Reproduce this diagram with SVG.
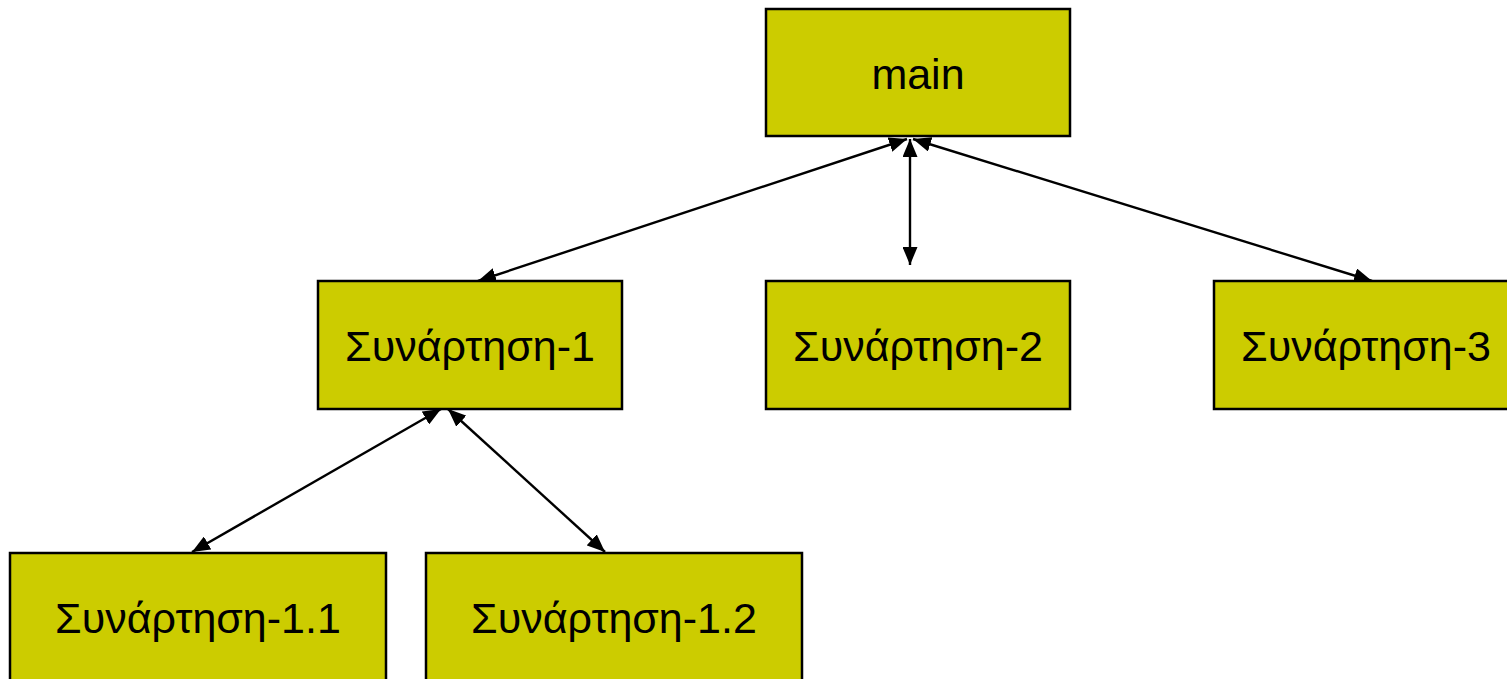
<svg xmlns="http://www.w3.org/2000/svg" width="1507" height="679" viewBox="0 0 1507 679">
<style>
.box{fill:#CCCC00;stroke:#000;stroke-width:2.5}
.lbl{font-family:"Liberation Sans",Arial,sans-serif;font-size:43px;fill:#000;text-anchor:middle}
.edge{stroke:#000;stroke-width:2.4;fill:none;marker-start:url(#ah);marker-end:url(#ah)}
</style>
<defs>
<marker id="ah" markerUnits="userSpaceOnUse" markerWidth="19" markerHeight="15" refX="18" refY="7.5" orient="auto-start-reverse">
<path d="M0,0 L18,7.5 L0,15 Z" fill="#000"/>
</marker>
</defs>
<rect width="1507" height="679" fill="#fff"/>
<g id="connectors">
<line class="edge" x1="907" y1="139" x2="478" y2="281"/>
<line class="edge" x1="910" y1="139" x2="910" y2="265"/>
<line class="edge" x1="913" y1="139" x2="1372" y2="281"/>
<line class="edge" x1="441" y1="409" x2="192" y2="552"/>
<line class="edge" x1="448" y1="409" x2="605" y2="552"/>
</g>
<g id="main">
<rect class="box" x="766" y="9" width="304" height="127"/>
<text class="lbl" x="918" y="89">main</text>
</g>
<g id="f1">
<rect class="box" x="318" y="281" width="304" height="128"/>
<text class="lbl" x="470" y="361">Συνάρτηση-1</text>
</g>
<g id="f2">
<rect class="box" x="766" y="281" width="304" height="128"/>
<text class="lbl" x="918" y="361">Συνάρτηση-2</text>
</g>
<g id="f3">
<rect class="box" x="1214" y="281" width="304" height="128"/>
<text class="lbl" x="1366" y="361">Συνάρτηση-3</text>
</g>
<g id="f11">
<rect class="box" x="10" y="553" width="376" height="140"/>
<text class="lbl" x="198" y="633">Συνάρτηση-1.1</text>
</g>
<g id="f12">
<rect class="box" x="426" y="553" width="376" height="140"/>
<text class="lbl" x="614" y="633">Συνάρτηση-1.2</text>
</g>
</svg>
